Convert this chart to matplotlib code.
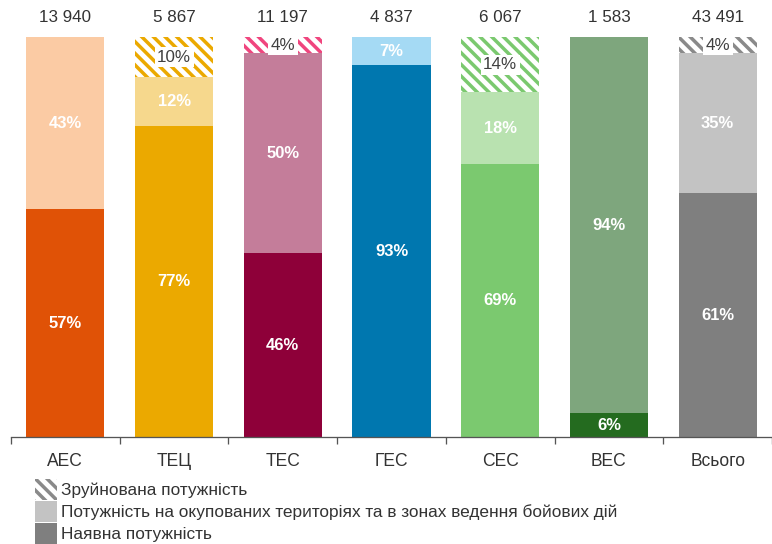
import matplotlib
matplotlib.use("Agg")
import matplotlib.pyplot as plt
from matplotlib.patches import Patch

# ---------------- data ----------------
categories = ['АЕС', 'ТЕЦ', 'ТЕС', 'ГЕС', 'СЕС', 'ВЕС', 'Всього']
totals = [13940, 5867, 11197, 4837, 6067, 1583, 43491]
available = [57, 77, 46, 93, 69, 6, 61]      # Наявна потужність, %
occupied = [43, 12, 50, 7, 18, 94, 35]       # На окупованих територіях, %
destroyed = [0, 10, 4, 0, 14, 0, 4]          # Зруйнована потужність, %

legend_labels = ['Зруйнована потужність',
                 'Потужність на окупованих територіях та в зонах ведення бойових дій',
                 'Наявна потужність']

# ---------------- style ----------------
col_avail = ['#E05206', '#EBA900', '#8E0039', '#0077AF', '#7BC96F', '#246B1F', '#7F7F7F']
col_occ = ['#FBCBA4', '#F6D88D', '#C47D9A', '#A5DAF4', '#B9E2B0', '#7EA67D', '#C3C3C3']
col_hatch = ['#E05206', '#EBA900', '#F0457E', '#0077AF', '#7BC96F', '#246B1F', '#8A8A8A']

DPI = 140
W, H = 772, 544
def pt(px):
    return px * 72.0 / DPI

HATCH = '\\' * 4

plt.rcParams['font.family'] = ['Liberation Sans', 'DejaVu Sans']
plt.rcParams['hatch.linewidth'] = pt(3.5)

fig = plt.figure(figsize=(W / DPI, H / DPI), dpi=DPI)
left_px, right_px = 11, 772
base_px, top_px = 437, 37
ax = fig.add_axes([left_px / W, (H - base_px) / H, (right_px - left_px) / W, (base_px - top_px) / H])

x = list(range(len(categories)))
bw = 0.72
for i in x:
    s = available[i] + occupied[i] + destroyed[i]
    ha_ = available[i] * 100.0 / s
    ho_ = occupied[i] * 100.0 / s
    hd_ = destroyed[i] * 100.0 / s
    ax.bar(i, ha_, width=bw, color=col_avail[i], linewidth=0)
    ax.bar(i, ho_, width=bw, bottom=ha_, color=col_occ[i], linewidth=0)
    ax.text(i, ha_ / 2, f'{available[i]}%', ha='center', va='center', color='white',
            fontsize=pt(16.5), fontweight='bold')
    ax.text(i, ha_ + ho_ / 2, f'{occupied[i]}%', ha='center', va='center', color='white',
            fontsize=pt(16.5), fontweight='bold')
    if destroyed[i] > 0:
        ax.bar(i, hd_, width=bw, bottom=ha_ + ho_, facecolor='white', edgecolor=col_hatch[i],
               hatch=HATCH, linewidth=0)
        ax.text(i, ha_ + ho_ + hd_ / 2, f'{destroyed[i]}%', ha='center', va='center',
                color='#404040', fontsize=pt(17),
                bbox=dict(boxstyle='square,pad=0.15', facecolor='white', edgecolor='none'))
    ax.text(i, 100 + 4.8, f'{totals[i]:,}'.replace(',', ' '), ha='center', va='center',
            color='#333333', fontsize=pt(17), clip_on=False)

ax.set_xlim(-0.5, -0.5 + (right_px - left_px) / 110.6)
ax.set_ylim(0, 100)
for sp in ['top', 'right', 'left']:
    ax.spines[sp].set_visible(False)
ax.spines['bottom'].set_color('#555555')
ax.spines['bottom'].set_linewidth(pt(1.3))
ax.set_yticks([])
ax.set_xticks([i - 0.5 for i in range(len(categories) + 1)])
ax.set_xticklabels([])
ax.tick_params(axis='x', direction='out', length=pt(7), width=pt(1.3), color='#555555')
for i, c in enumerate(categories):
    ax.text(i, -6.1, c, ha='center', va='center', color='#333333', fontsize=pt(17.5),
            clip_on=False)

handles = [Patch(facecolor='white', edgecolor='#8A8A8A', hatch=HATCH, linewidth=0),
           Patch(facecolor='#C3C3C3', linewidth=0),
           Patch(facecolor='#7F7F7F', linewidth=0)]
fs_leg = 17.3
fig.legend(handles, legend_labels, loc='upper left', bbox_to_anchor=(35 / W, 1 - 479 / H),
           frameon=False, borderpad=0, borderaxespad=0, handlelength=1.3,
           handleheight=1.5, labelspacing=0.05, handletextpad=0.18,
           prop={'size': pt(fs_leg)}, labelcolor='#333333')

fig.savefig('out.png', dpi=DPI)
